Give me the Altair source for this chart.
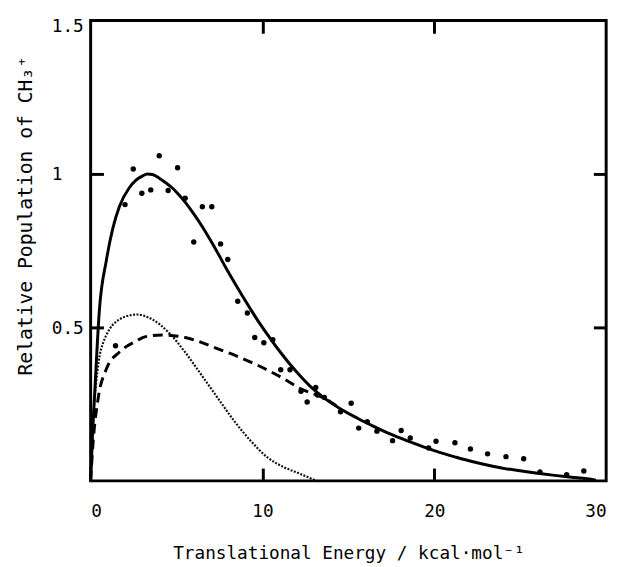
import altair as alt
import pandas as pd

# experimental points
pts_x = [1.45, 2.0, 2.48, 2.98, 3.50, 3.99, 4.51, 5.06, 5.50, 6.0, 6.50, 7.05, 7.56, 7.98,
         8.56, 9.12, 9.55, 10.08, 10.6, 11.06, 11.6, 12.24, 12.6, 13.1, 13.2, 13.6, 14.54,
         15.16, 15.6, 16.1, 16.66, 17.57, 18.07, 18.6, 19.67, 20.1, 21.2, 22.1, 23.1, 24.17,
         25.2, 26.15, 27.7, 28.7]
pts_y = [0.44, 0.90, 1.016, 0.937, 0.948, 1.059, 0.946, 1.020, 0.921, 0.778, 0.893, 0.893,
         0.772, 0.721, 0.585, 0.547, 0.467, 0.450, 0.46, 0.362, 0.362, 0.292, 0.257, 0.304,
         0.28, 0.272, 0.225, 0.253, 0.172, 0.193, 0.162, 0.131, 0.164, 0.14, 0.107, 0.129,
         0.124, 0.104, 0.088, 0.079, 0.072, 0.029, 0.02, 0.032]

# total (solid) curve
solid_x = [0, 0.1, 0.25, 0.5, 0.92, 1.3, 1.68, 2.25, 2.64, 3.0, 3.3, 3.6, 3.97, 4.4, 4.74,
           5.04, 5.5, 6.0, 6.5, 6.95, 7.45, 7.91, 8.4, 8.86, 9.3, 9.72, 10.2, 10.6, 11.1,
           11.6, 12.2, 12.88, 13.64, 14.5, 15.5, 16.5, 17.46, 18.4, 19.37, 20.3, 21.28, 22.2,
           23.2, 24.1, 25.1, 26.0, 27.0, 28.0, 28.9, 29.4]
solid_y = [0, 0.14, 0.3, 0.55, 0.72, 0.825, 0.895, 0.955, 0.98, 0.993, 1.0, 0.998, 0.987,
           0.97, 0.955, 0.938, 0.908, 0.87, 0.828, 0.786, 0.737, 0.69, 0.643, 0.60, 0.56,
           0.523, 0.484, 0.452, 0.415, 0.38, 0.342, 0.303, 0.268, 0.236, 0.205, 0.177, 0.152,
           0.131, 0.111, 0.093, 0.077, 0.063, 0.05, 0.04, 0.032, 0.025, 0.018, 0.012, 0.007,
           0.002]

# dashed component
dashed_x = [0, 0.15, 0.44, 0.92, 1.68, 2.64, 3.2, 4.16, 5.5, 7.41, 9.32, 11.23, 12.19, 13.14,
            13.64, 14.5]
dashed_y = [0, 0.13, 0.27, 0.365, 0.42, 0.455, 0.47, 0.475, 0.467, 0.43, 0.387, 0.333, 0.301,
            0.28, 0.268, 0.236]

# dotted component
dotted_x = [0, 0.15, 0.34, 0.53, 0.73, 1.1, 1.68, 2.2, 2.7, 3.2, 3.59, 4.55, 5.5, 6.46, 7.41,
            8.37, 9.32, 10.28, 11.23, 12.19, 13.14]
dotted_y = [0, 0.2, 0.33, 0.41, 0.45, 0.494, 0.526, 0.538, 0.542, 0.536, 0.526, 0.483, 0.419,
            0.344, 0.269, 0.194, 0.13, 0.077, 0.045, 0.023, 0.0]

x_label_values = [0, 10, 20, 30]
y_label_values = [0.5, 1, 1.5]
x_tick_values = [10, 20]
y_tick_values = [0.5, 1]

W, H = 524, 468
FONT = "DejaVu Sans Mono"

pts = pd.DataFrame({"x": pts_x, "y": pts_y})
solid = pd.DataFrame({"x": solid_x, "y": solid_y})
dashed = pd.DataFrame({"x": dashed_x, "y": dashed_y})
dotted = pd.DataFrame({"x": dotted_x, "y": dotted_y})

xs = alt.Scale(domain=[0, 30], nice=False, zero=False)
ys = alt.Scale(domain=[0, 1.5], nice=False, zero=False)

x_label_axis = alt.Axis(
    orient="bottom", values=x_label_values, format="d", ticks=False, tickSize=0,
    domain=False, grid=False, labelFont=FONT, labelFontSize=18, labelColor="black",
    labelPadding=36, labelBaseline="alphabetic",
    title="Translational Energy / kcal·mol⁻¹", titleFont=FONT, titleFontSize=18,
    titleFontWeight="normal", titleColor="black", titleX=262, titleY=79,
    titleBaseline="alphabetic", titleAlign="center",
)
y_label_axis = alt.Axis(
    orient="left", values=y_label_values,
    labelExpr="datum.value == 1 ? '1' : format(datum.value, '.1f')",
    ticks=False, tickSize=0, domain=False, grid=False, labelFont=FONT, labelFontSize=18,
    labelColor="black", labelAlign="left", labelBaseline="middle", labelPadding=40,
    labelOffset={"condition": {"test": "datum.value == 1.5", "value": 6}, "value": 1},
    title="Relative Population of CH₃⁺", titleFont=FONT, titleFontSize=20,
    titleFontWeight="normal", titleColor="black", titleAngle=270, titleX=-60, titleY=198,
    titleBaseline="alphabetic", titleAlign="center",
)


def tick_axis(orient, offset, values):
    return alt.Axis(
        orient=orient, offset=offset, values=values, ticks=True, tickSize=13, tickWidth=3,
        tickColor="black", labels=False, domain=False, grid=False, title=None,
    )


points_layer = alt.Chart(pts).mark_circle(size=30, color="black", opacity=1).encode(
    x=alt.X("x:Q", scale=xs, axis=x_label_axis),
    y=alt.Y("y:Q", scale=ys, axis=y_label_axis),
)
solid_layer = alt.Chart(solid).mark_line(
    color="black", strokeWidth=3, interpolate="monotone"
).encode(
    x=alt.X("x:Q", scale=xs, axis=tick_axis("bottom", -H, x_tick_values)),
    y=alt.Y("y:Q", scale=ys, axis=tick_axis("right", -W, y_tick_values)),
)
dashed_layer = alt.Chart(dashed).mark_line(
    color="black", strokeWidth=3, strokeDash=[10, 6], interpolate="monotone"
).encode(
    x=alt.X("x:Q", scale=xs, axis=tick_axis("top", -H, x_tick_values)),
    y=alt.Y("y:Q", scale=ys, axis=tick_axis("left", -W, y_tick_values)),
)
dotted_layer = alt.Chart(dotted).mark_line(
    color="#111111", strokeWidth=2.2, strokeDash=[2, 1.5], interpolate="monotone"
).encode(
    x=alt.X("x:Q", scale=xs, axis=None),
    y=alt.Y("y:Q", scale=ys, axis=None),
)

chart = (
    alt.layer(dotted_layer, dashed_layer, solid_layer, points_layer)
    .resolve_axis(x="independent", y="independent")
    .properties(
        width=W, height=H,
        autosize=alt.AutoSizeParams(type="none"),
        padding={"left": 84, "top": 8, "right": 10, "bottom": 90},
        background="white",
    )
    .configure_view(stroke="black", strokeWidth=3)
)

chart.save("out.html", embed_options={"renderer": "svg", "actions": False})
